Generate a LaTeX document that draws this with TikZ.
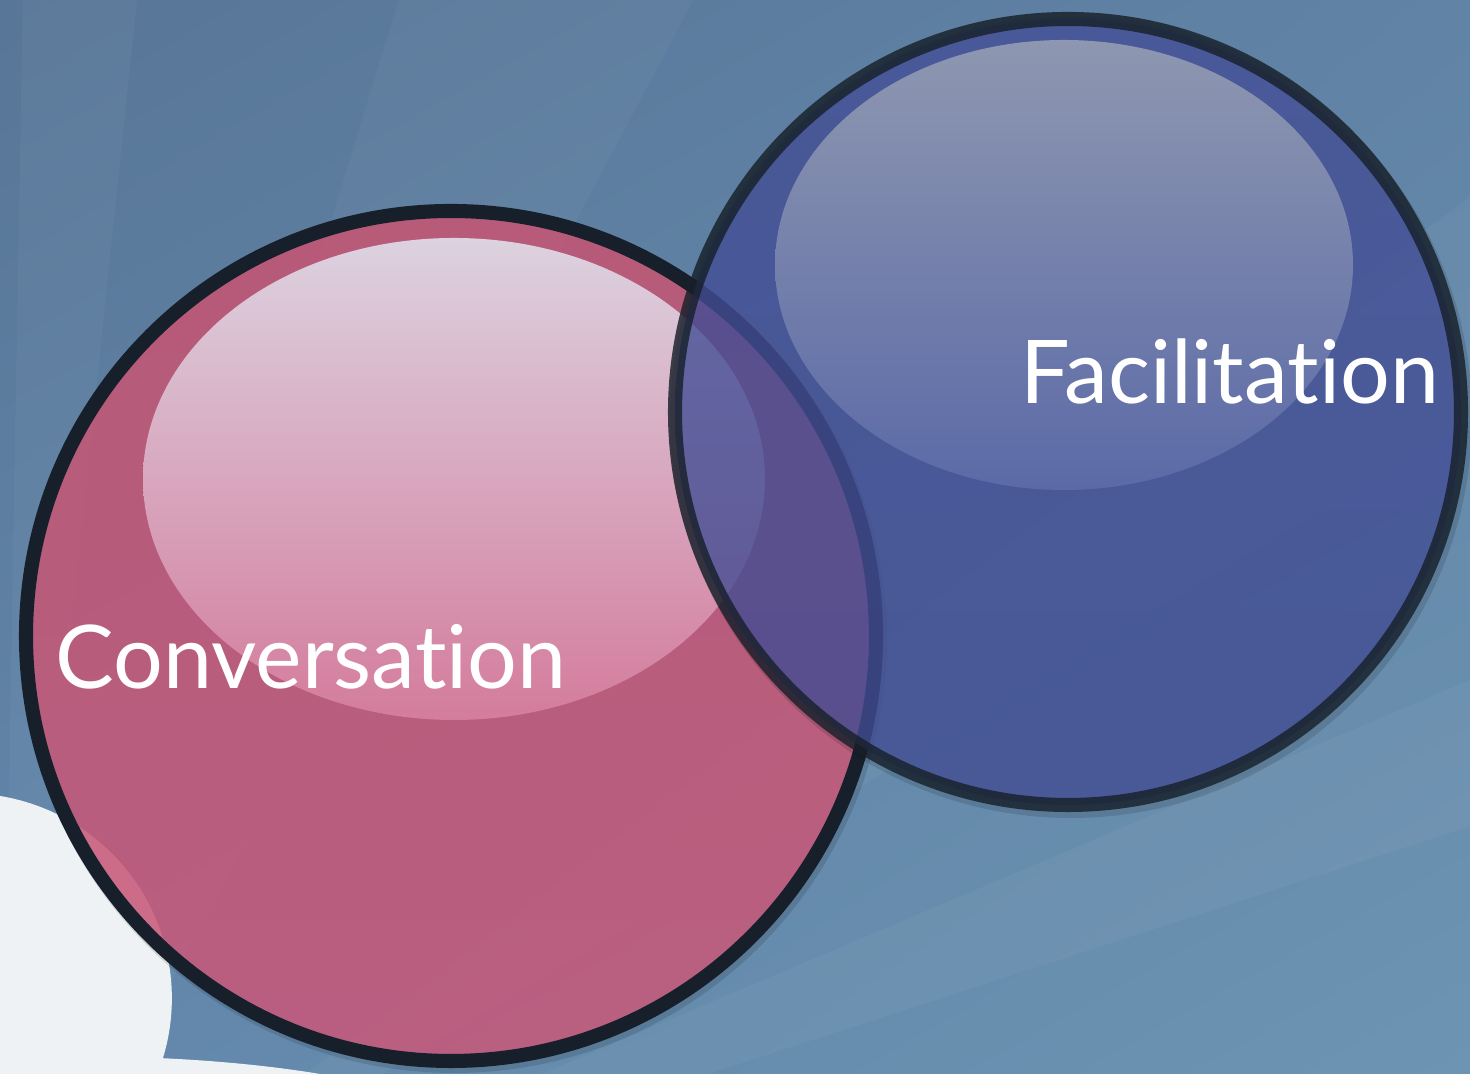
\documentclass[tikz,border=0pt]{standalone}
\usepackage{fontspec}
\setmainfont{Lato}[Ligatures={NoCommon,NoRare}]
\usetikzlibrary{shadings}

\definecolor{bgtl}{HTML}{587697}
\definecolor{bgtr}{HTML}{6083A6}
\definecolor{bgbl}{HTML}{6287AB}
\definecolor{bgbr}{HTML}{6D94B2}
\definecolor{cloudc}{HTML}{EEF2F5}
\definecolor{pinktop}{HTML}{CB5776}
\definecolor{pinkmid}{HTML}{EC6A93}
\definecolor{pinkbot}{HTML}{CC5A7C}
\definecolor{pinkhitop}{HTML}{DCD2E0}
\definecolor{pinkhimid}{HTML}{D08FAD}
\definecolor{pinkhibot}{HTML}{D47C9C}
\definecolor{bluetop}{HTML}{46519C}
\definecolor{bluemid}{HTML}{485BB0}
\definecolor{bluebot}{HTML}{444F98}
\definecolor{bluehitop}{HTML}{8E97B0}
\definecolor{bluehimid}{HTML}{7880A8}
\definecolor{bluehibot}{HTML}{5B6AA7}
\definecolor{rimc}{HTML}{17202A}

\begin{document}
\begin{tikzpicture}[%
		x=.01cm,y=.01cm,
		ray/.style={fill=white,fill opacity=.035},%
		shadow/.style={fill=black,fill opacity=.12},%
		rim/.style={line width=4pt,draw=rimc},%
		bubbletext/.style={%
			text=white,%
			inner sep=0pt,%
			anchor=base west,%
			font=\fontsize{25}{30}\selectfont}
		]

		\useasboundingbox (0,0) rectangle (1470,1074);
		% backdrop
		\shade[upper left=bgtl,upper right=bgtr,lower left=bgbl,lower right=bgbr]
			(0,0) rectangle (1470,1074);
		% light rays
		\begin{scope}
			\clip (0,0) rectangle (1470,1074);
			\fill[ray] (0,-230) -- +(18:2600) -- +(23:2600) -- cycle;
			\fill[ray] (0,-230) -- +(31:2600) -- +(37:2600) -- cycle;
			\fill[ray] (0,-230) -- +(62:2600) -- +(73:2600) -- cycle;
			\fill[ray] (0,-230) -- +(84:2600) -- +(89:2600) -- cycle;
		\end{scope}
		% cloud
		\fill[cloudc] (0,0) -- (0,278)
			arc[start angle=80.7,end angle=-17,radius=205]
			.. controls (200,14) and (260,10) .. (320,0) -- cycle;

		% pink bubble
		\fill[shadow] (454,434) circle (433);
		\shade[top color=pinktop,middle color=pinkmid,bottom color=pinkbot,fill opacity=.84]
			(451,438) circle (425);
		\shade[top color=pinkhitop,middle color=pinkhimid,bottom color=pinkhibot]
			(454,595) ellipse (311 and 241);
		\draw[rim] (451,438) circle (425);

		% blue bubble
		\fill[shadow] (1071,657) circle (401);
		\shade[top color=bluetop,middle color=bluemid,bottom color=bluebot,fill opacity=.76]
			(1068,662) circle (393);
		\shade[top color=bluehitop,middle color=bluehimid,bottom color=bluehibot]
			(1064,809) ellipse (289 and 225);
		\draw[rim,draw opacity=.82] (1068,662) circle (393);

		% labels
		\node[bubbletext] (conv) at (55,385) {Conversation};
		\node[bubbletext] (facil) at (1020,670) {Facilitation};
	\end{tikzpicture}
\end{document}
